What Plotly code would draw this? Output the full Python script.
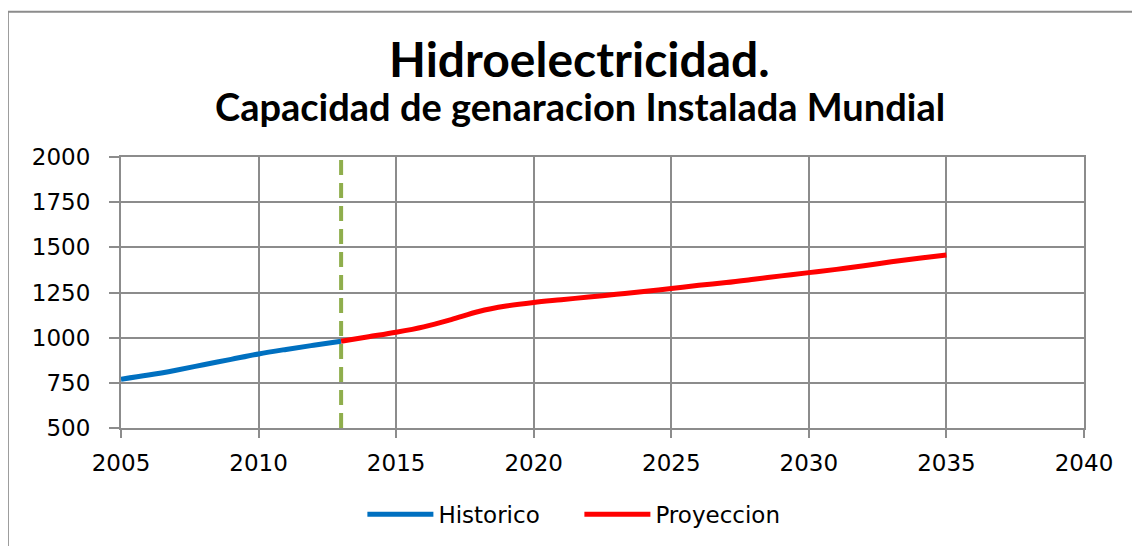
import plotly.graph_objects as go

hist_years = [2005, 2006, 2007, 2008, 2009, 2010, 2011, 2012, 2013]
hist_values = [770, 793, 820, 850, 880, 910, 935, 958, 980]

proj_years = list(range(2013, 2036))
proj_values = [980, 1005, 1030, 1060, 1100, 1145, 1175, 1195, 1210, 1225, 1240,
               1255, 1272, 1290, 1305, 1323, 1342, 1360, 1378, 1398, 1420, 1440, 1458]

split_year = 2013
x_ticks = [2005, 2010, 2015, 2020, 2025, 2030, 2035, 2040]
y_ticks = [500, 750, 1000, 1250, 1500, 1750, 2000]

title_main = "Hidroelectricidad."
title_sub = "Capacidad de genaracion Instalada Mundial"

fig = go.Figure()
fig.add_trace(go.Scatter(x=hist_years, y=hist_values, mode="lines", name="Historico",
                         line=dict(color="#0070C0", width=5, shape="spline")))
fig.add_trace(go.Scatter(x=proj_years, y=proj_values, mode="lines", name="Proyeccion",
                         line=dict(color="#FF0000", width=5, shape="spline")))
fig.add_trace(go.Scatter(x=[split_year, split_year], y=[y_ticks[0], y_ticks[-1]], mode="lines",
                         showlegend=False, line=dict(color="#8FAE4C", width=4, dash="15px,8px")))

grid = "#8C8C8C"
fig.update_layout(
    width=1140, height=546,
    margin=dict(l=113, r=64, t=149, b=126),
    paper_bgcolor="white", plot_bgcolor="white",
    showlegend=True,
    legend=dict(orientation="h", x=0.476, xanchor="center", y=-0.318, yanchor="middle",
                font=dict(family="DejaVu Sans", size=23, color="black"),
                itemwidth=66, tracegroupgap=0, entrywidth=136, entrywidthmode="pixels"),
    xaxis=dict(range=[2005, 2040], tickvals=x_ticks, showgrid=True, gridcolor=grid, gridwidth=2,
               showline=True, linecolor=grid, linewidth=2, mirror=True,
               ticks="outside", ticklen=8, tickcolor=grid, tickwidth=2, ticklabelstandoff=5,
               tickfont=dict(family="DejaVu Sans", size=23, color="black"), zeroline=False),
    yaxis=dict(range=[500, 2000], tickvals=y_ticks, showgrid=True, gridcolor=grid, gridwidth=2,
               showline=True, linecolor=grid, linewidth=2, mirror=True,
               ticks="outside", ticklen=10, tickcolor=grid, tickwidth=2, ticklabelstandoff=14,
               tickfont=dict(family="DejaVu Sans", size=23, color="black"), zeroline=False),
    annotations=[
        dict(text="<b>" + title_main + "</b>", xref="paper", yref="paper", x=0.4766, y=1.362,
             xanchor="center", yanchor="middle", showarrow=False,
             font=dict(family="Lato", size=48, color="black")),
        dict(text="<b>" + title_sub + "</b>", xref="paper", yref="paper", x=0.4766, y=1.19,
             xanchor="center", yanchor="middle", showarrow=False,
             font=dict(family="Lato", size=38, color="black")),
    ],
    shapes=[
        dict(type="rect", xref="paper", yref="paper", x0=-0.1175, x1=1.2, y0=-0.6, y1=1.536,
             line=dict(color="#8C8C8C", width=2), fillcolor="rgba(0,0,0,0)", layer="below"),
    ],
)

fig.write_html("out.html")
